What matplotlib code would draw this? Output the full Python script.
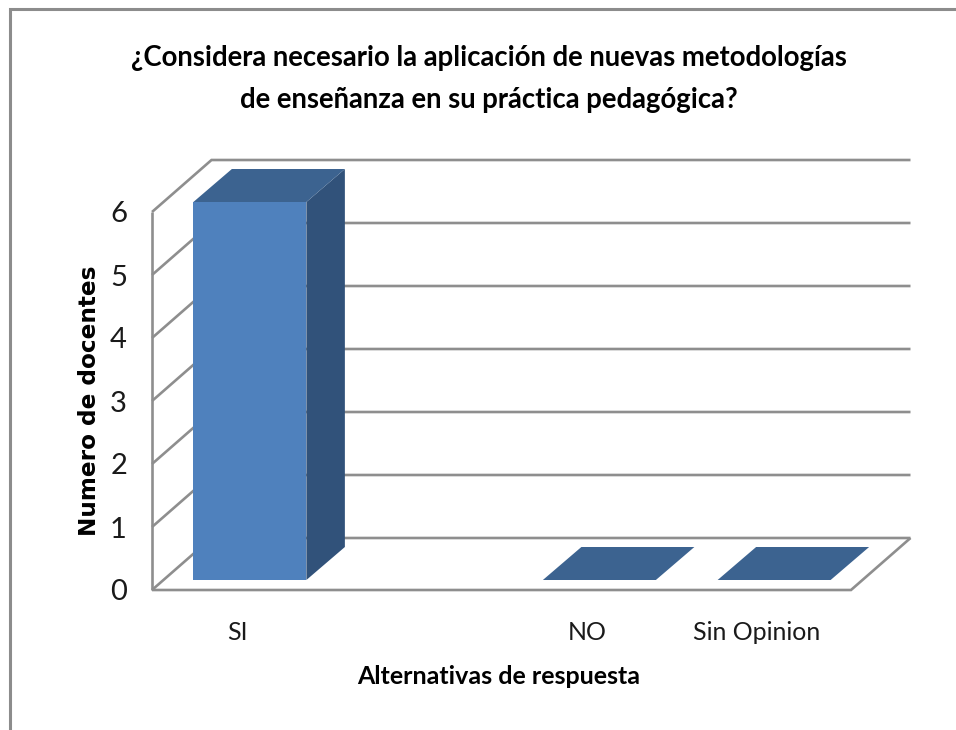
import matplotlib
matplotlib.use("Agg")
import matplotlib.pyplot as plt
from matplotlib.lines import Line2D
from matplotlib.patches import Polygon

categories = ["SI", "", "NO", "Sin Opinion"]
values = [6, 0, 0, 0]
drawn = [True, False, True, True]
y_ticks = [0, 1, 2, 3, 4, 5, 6]
title = "¿Considera necesario la aplicación de nuevas metodologías\nde enseñanza en su práctica pedagógica?"
x_label = "Alternativas de respuesta"
y_label = "Numero de docentes"

W, H = 956, 730
FONT = ["Lato", "DejaVu Sans"]
GRID = "#8e8e8e"

fig = plt.figure(figsize=(W / 100, H / 100), dpi=100, facecolor="white")
L, R, T, B = 152, 851, 212, 590
ax = fig.add_axes([L / W, 1 - B / H, (R - L) / W, (B - T) / H])
ax.set_xlim(0, len(categories))
ax.set_ylim(0, 6)
ax.patch.set_visible(False)
for s in ax.spines.values():
    s.set_visible(False)

ux = (R - L) / len(categories)
uy = (B - T) / 6
wall_dx, wall_dy = 59.5 / ux, 52 / uy
bar_off_x, bar_off_y = 10.5 / ux, 10 / uy
bar_dx, bar_dy = 38.5 / ux, 33 / uy
bar_w = 113 / ux

kw = dict(color=GRID, lw=1.9, clip_on=False, solid_capstyle="butt", solid_joinstyle="miter")
xmax = len(categories)
for v in y_ticks:
    ax.plot([0, wall_dx, xmax + wall_dx], [v, v + wall_dy, v + wall_dy], **kw)
ax.plot([0, 0], [0, 6], **kw)
ax.plot([0, xmax, xmax + wall_dx], [0, 0, wall_dy], **kw)

front, side, top = "#4f81bd", "#31527a", "#3c6390"
for i, (v, d) in enumerate(zip(values, drawn)):
    if not d:
        continue
    x0 = i + 0.5 - bar_w / 2 + bar_off_x
    x1 = x0 + bar_w
    y0 = bar_off_y
    y1 = y0 + v
    if v > 0:
        ax.add_patch(Polygon([(x0, y0), (x1, y0), (x1, y1), (x0, y1)], fc=front, ec="none", clip_on=False, zorder=4))
        ax.add_patch(Polygon([(x1, y0), (x1 + bar_dx, y0 + bar_dy), (x1 + bar_dx, y1 + bar_dy), (x1, y1)], fc=side, ec="none", clip_on=False, zorder=4))
    ax.add_patch(Polygon([(x0, y1), (x1, y1), (x1 + bar_dx, y1 + bar_dy), (x0 + bar_dx, y1 + bar_dy)], fc=top, ec="none", clip_on=False, zorder=4))

ax.set_yticks(y_ticks)
ax.set_yticklabels([str(v) for v in y_ticks], fontfamily=FONT, fontsize=21, color="#1a1a1a")
ax.tick_params(axis="y", length=0, pad=18)
shown = [i for i, c in enumerate(categories) if c]
ax.set_xticks([i + 0.5 + (-0.04 if categories[i] == "Sin Opinion" else -0.01) for i in shown])
ax.set_xticklabels([categories[i] for i in shown], fontfamily=FONT, fontsize=18, color="#1a1a1a")
ax.tick_params(axis="x", length=0, pad=22)

fig.text(489 / W, 1 - 79 / H, title, ha="center", va="center", fontfamily=FONT, fontsize=19.8,
         fontweight="bold", color="black", linespacing=1.8)
fig.text(499 / W, 1 - 676 / H, x_label, ha="center", va="center", fontfamily=FONT, fontsize=18,
         fontweight="bold", color="black")
fig.text(90 / W, 1 - 401 / H, y_label, ha="center", va="center", rotation=90,
         fontfamily=["DejaVu Sans"], fontsize=16.7, fontweight="bold", color="black")

border = "#8c8c8c"
fig.add_artist(Line2D([10 / W, 10 / W, 1], [0, 1 - 9 / H, 1 - 9 / H], color=border, lw=2.2, solid_joinstyle="miter"))

fig.savefig("out.png", dpi=100)
